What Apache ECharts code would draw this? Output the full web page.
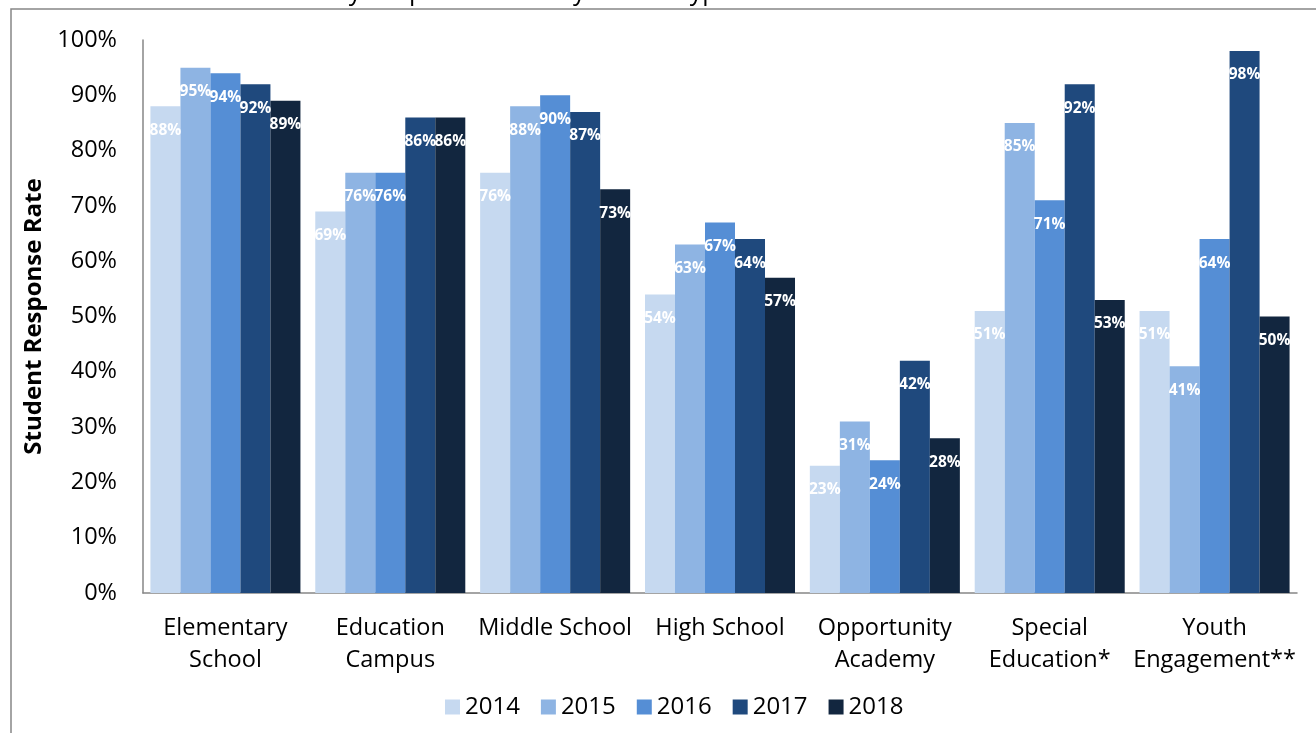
<!DOCTYPE html>
<html>
<head>
<meta charset="utf-8">
<title>Student Survey Response Rates by School Type</title>
<script src="https://cdn.jsdelivr.net/npm/echarts@6/dist/echarts.min.js"></script>
<style>
  html, body { margin: 0; padding: 0; background: #ffffff; }
  #chart { width: 1316px; height: 733px; }
</style>
</head>
<body>
<div id="chart"></div>
<script>
// School types along the x axis
const categories = [
  'Elementary\nSchool',
  'Education\nCampus',
  'Middle School',
  'High School',
  'Opportunity\nAcademy',
  'Special\nEducation*',
  'Youth\nEngagement**'
];

// Survey years (one bar series each)
const years = ['2014', '2015', '2016', '2017', '2018'];

// Response rates (%) per school type, one array per year
const rates2014 = [88, 69, 76, 54, 23, 51, 51];
const rates2015 = [95, 76, 88, 63, 31, 85, 41];
const rates2016 = [94, 76, 90, 67, 24, 71, 64];
const rates2017 = [92, 86, 87, 64, 42, 92, 98];
const rates2018 = [89, 86, 73, 57, 28, 53, 50];

const seriesValues = [rates2014, rates2015, rates2016, rates2017, rates2018];
const yearColors = ['#C6D9F0', '#8EB4E3', '#558ED5', '#1F497D', '#12263F'];

const FONT = '"Open Sans", "Liberation Sans", sans-serif';
const AXIS_GRAY = '#868686';

const chart = echarts.init(document.getElementById('chart'), null, { renderer: 'canvas' });

const series = years.map((yr, i) => ({
  name: yr,
  type: 'bar',
  data: seriesValues[i],
  barGap: '0%',
  barCategoryGap: '9%',
  itemStyle: { color: yearColors[i] },
  label: {
    show: true,
    position: 'insideTop',
    distance: 16,
    color: '#ffffff',
    fontFamily: FONT,
    fontWeight: 'bold',
    fontSize: 15.5,
    formatter: p => p.value + '%'
  },
  emphasis: { disabled: true }
}));

chart.setOption({
  animation: false,
  backgroundColor: '#ffffff',
  textStyle: { fontFamily: FONT },
  grid: { left: 143, right: 19, top: 40, bottom: 140, containLabel: false },
  xAxis: {
    type: 'category',
    data: categories,
    axisLine: { show: true, lineStyle: { color: AXIS_GRAY, width: 1.5 } },
    axisTick: { show: false },
    axisLabel: {
      color: '#000000',
      fontFamily: FONT,
      fontSize: 23.5,
      lineHeight: 32,
      margin: 19,
      interval: 0
    }
  },
  yAxis: {
    type: 'value',
    min: 0,
    max: 100,
    interval: 10,
    name: 'Student Response Rate',
    nameLocation: 'middle',
    nameGap: 85,
    nameTextStyle: { color: '#000000', fontFamily: FONT, fontWeight: 'bold', fontSize: 24 },
    axisLine: { show: true, lineStyle: { color: AXIS_GRAY, width: 1.5 } },
    axisTick: { show: false },
    splitLine: { show: false },
    axisLabel: {
      color: '#000000',
      fontFamily: FONT,
      fontSize: 23.5,
      margin: 26,
      formatter: '{value}%'
    }
  },
  legend: {
    data: years,
    left: 440,
    top: 690,
    icon: 'rect',
    itemWidth: 15,
    itemHeight: 15,
    itemGap: 21,
    textStyle: { color: '#000000', fontFamily: FONT, fontSize: 24 }
  },
  graphic: [
    {
      type: 'rect',
      silent: true,
      shape: { x: 11, y: 9, width: 1400, height: 800 },
      style: { fill: 'none', stroke: AXIS_GRAY, lineWidth: 1.5 },
      z: -1
    },
    {
      type: 'text',
      silent: true,
      left: 24,
      top: -19.5,
      style: {
        text: 'Table 6. 2018 Student Survey Response Rates by School Type',
        fill: '#000000',
        font: '25px ' + FONT
      }
    }
  ],
  series: series
});
</script>
</body>
</html>
